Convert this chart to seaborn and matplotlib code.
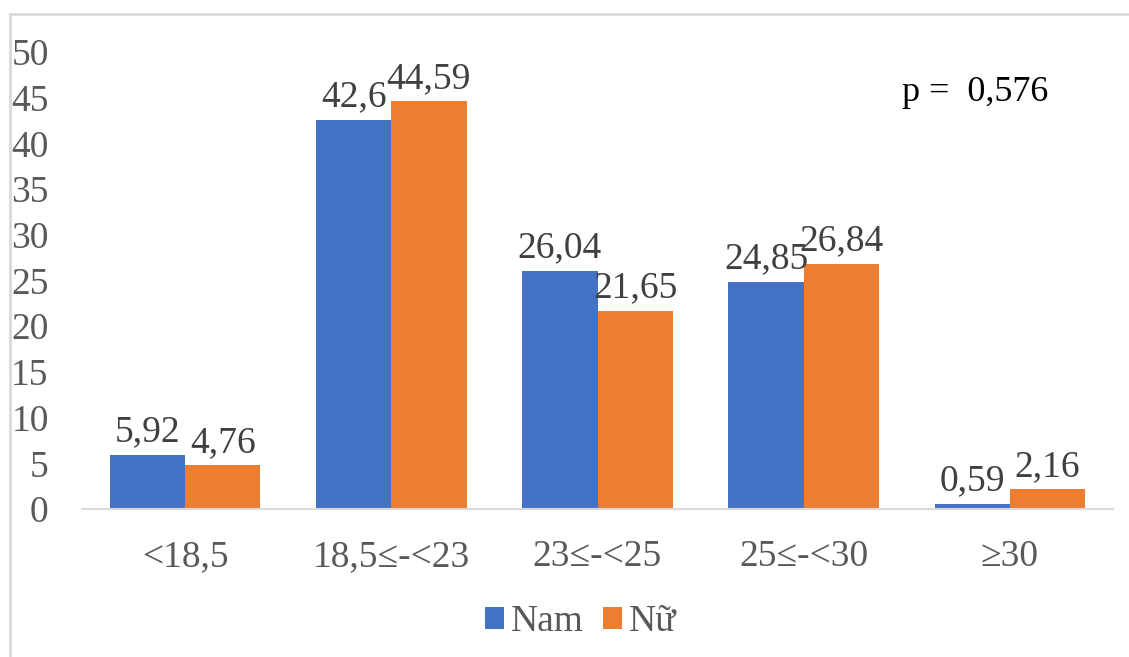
import matplotlib
matplotlib.use("Agg")
import matplotlib.pyplot as plt
import seaborn as sns
import pandas as pd
from matplotlib.lines import Line2D
from matplotlib.patches import Patch

categories = ["<18,5", "18,5≤-<23", "23≤-<25", "25≤-<30", "≥30"]
nam = [5.92, 42.6, 26.04, 24.85, 0.59]
nu = [4.76, 44.59, 21.65, 26.84, 2.16]
nam_labels = ["5,92", "42,6", "26,04", "24,85", "0,59"]
nu_labels = ["4,76", "44,59", "21,65", "26,84", "2,16"]
series = ["Nam", "Nữ"]
colors = ["#4472C4", "#ED7D31"]
yticks = [0, 5, 10, 15, 20, 25, 30, 35, 40, 45, 50]

sns.set_theme(style="white")
plt.rcParams['font.family'] = ['Liberation Serif', 'DejaVu Serif']

df = pd.DataFrame({
    "cat": categories * 2,
    "val": nam + nu,
    "sex": [series[0]] * 5 + [series[1]] * 5,
})

W, H = 1129, 657
fig = plt.figure(figsize=(W / 100, H / 100), dpi=100)
ax = fig.add_axes([82 / W, 1 - 509 / H, (1113 - 82) / W, (509 - 52) / H])

sns.barplot(data=df, x="cat", y="val", hue="sex", palette=colors,
            order=categories, hue_order=series, width=0.73, ax=ax,
            legend=False, saturation=1, edgecolor="none")

ax.set_ylim(0, 50)
ax.set_xlim(-0.5, 4.5)
ax.set_yticks(yticks)
ax.set_yticklabels([str(t) for t in yticks])
ax.set_xlabel("")
ax.set_ylabel("")
for s in ["top", "right", "left"]:
    ax.spines[s].set_visible(False)
ax.spines["bottom"].set_color("#D9D9D9")
ax.spines["bottom"].set_linewidth(1.5)
ax.tick_params(axis="y", length=0, pad=24, labelsize=27, labelcolor="#595959")
ax.tick_params(axis="x", length=0, pad=22, labelsize=27, labelcolor="#595959")

labels_all = [nam_labels, nu_labels]
for container, labs in zip(ax.containers, labels_all):
    ax.bar_label(container, labels=labs, padding=4, fontsize=27, color="#404040")

ax.text(0.866, 0.912, "p =  0,576", transform=ax.transAxes, ha="center",
        va="center", fontsize=26, color="black")

handles = [Patch(facecolor=c, edgecolor="none") for c in colors]
fig.legend(handles, series, loc="center", bbox_to_anchor=(581 / W, 1 - 622 / H),
           ncol=2, frameon=False, fontsize=27, labelcolor="#595959",
           handlelength=0.5, handleheight=0.5, handletextpad=0.2,
           columnspacing=0.5)

fig.add_artist(Line2D([10 / W, 1], [1 - 14 / H, 1 - 14 / H], transform=fig.transFigure,
                      color="#D9D9D9", linewidth=2))
fig.add_artist(Line2D([10 / W, 10 / W], [0, 1 - 14 / H], transform=fig.transFigure,
                      color="#D9D9D9", linewidth=2))

fig.savefig("out.png", dpi=100, facecolor="white")
